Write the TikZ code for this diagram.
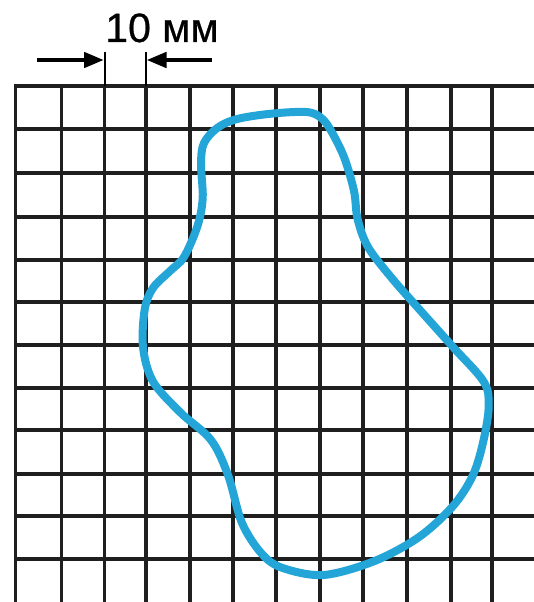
\documentclass[tikz,border=0pt]{standalone}
\usepackage{fontspec}
\setmainfont{Liberation Sans}
\usetikzlibrary{arrows.meta}
\definecolor{blob}{RGB}{35,165,215}
\begin{document}
\begin{tikzpicture}[x=1pt,y=-1pt,
  gridline/.style={line width=3.5pt,black!88},
  dimarrow/.style={line width=4.5pt,-{Triangle[length=20pt,width=15pt]}},
  ticks/.style={line width=2pt,black},
  outline/.style={blob,line width=8pt,line join=round}]
\useasboundingbox (0,0) rectangle (534,602);
\fill[white] (0,0) rectangle (534,602);
\begin{scope}
  \clip (0,0) rectangle (534,602);
  \foreach \x in {15.5,61.5,104.5,146,190,233,276,320,363,407,451,492}
    \draw[gridline] (\x,86) -- (\x,610);
  \foreach \y in {86,129,173,217,260,302,345,388,430,474,516,559}
    \draw[gridline] (14,\y) -- (540,\y);
\end{scope}
% dimension
\coordinate (t1a) at (104.5,52);
\coordinate (t1b) at (104.5,86);
\coordinate (t2a) at (146,52);
\coordinate (t2b) at (146,86);
\draw[ticks] (t1a) -- (t1b);
\draw[ticks] (t2a) -- (t2b);
\coordinate (la) at (37,60);
\coordinate (lt) at (104,60);
\coordinate (ra) at (212,60);
\coordinate (rt) at (146.5,60);
\draw[dimarrow] (la) -- (lt);
\draw[dimarrow] (ra) -- (rt);
\node[anchor=base,inner sep=0pt,font=\fontsize{41}{41}\selectfont\addfontfeature{FakeBold=0.6}] (lbl) at (162,42) {10 мм};
% outline
\draw[outline] plot[smooth cycle,tension=0.55] coordinates {
 (272,113.6) (306,112) (320,117) (330,129) (344,157) (354,191) (357.6,219)
 (368,247) (391.7,278) (419,309) (453,347) (483.6,381.5) (488.7,405.7)
 (483.6,440) (473,475) (453,506) (419,537) (374.6,561) (323.6,575)
 (282.7,568) (262,554) (242,523) (228,475) (211,440) (180.5,412.6)
 (153,381.5) (143,347) (144.8,309) (153,288) (170,271) (184,257)
 (197.5,226) (202.7,198) (201,163.7) (204,143) (218,127.4) (238,118.8)};
\end{tikzpicture}
\end{document}
